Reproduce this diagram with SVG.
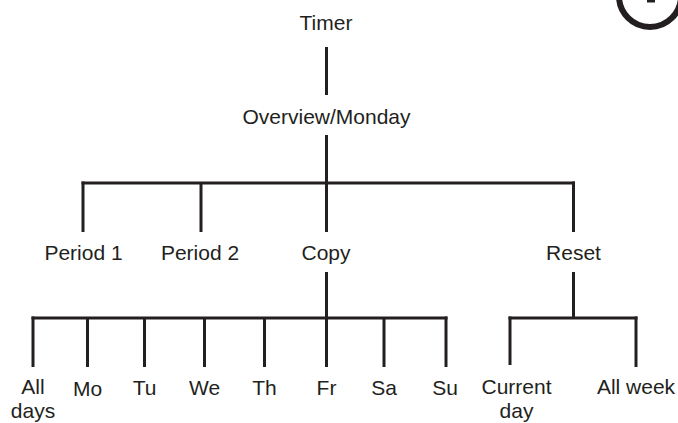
<svg xmlns="http://www.w3.org/2000/svg" width="678" height="423" viewBox="0 0 678 423">
<style>
.t{font-family:"Liberation Sans",Arial,sans-serif;font-size:21px;fill:#231f20;text-anchor:middle}
.c line{stroke:#231f20;stroke-width:3;stroke-linecap:butt}
</style>
<rect width="678" height="423" fill="#ffffff"/>
<g id="badge">
<circle cx="650" cy="-4" r="31" fill="none" stroke="#231f20" stroke-width="6"/>
<line x1="651" y1="-6" x2="651" y2="2.5" stroke="#231f20" stroke-width="8"/>
</g>
<g class="c" id="connectors">
<line x1="326.5" y1="47" x2="326.5" y2="95"/>
<line x1="326.5" y1="135" x2="326.5" y2="183"/>
<line x1="81.5" y1="183" x2="575" y2="183"/>
<line x1="83" y1="181.5" x2="83" y2="232"/>
<line x1="201" y1="183" x2="201" y2="232"/>
<line x1="326.5" y1="183" x2="326.5" y2="232"/>
<line x1="573.5" y1="181.5" x2="573.5" y2="232"/>
<line x1="326.5" y1="272" x2="326.5" y2="318"/>
<line x1="31.5" y1="318" x2="447.5" y2="318"/>
<line x1="33" y1="316.5" x2="33" y2="367"/>
<line x1="87.5" y1="318" x2="87.5" y2="367"/>
<line x1="144.5" y1="318" x2="144.5" y2="367"/>
<line x1="204.5" y1="318" x2="204.5" y2="367"/>
<line x1="264.5" y1="318" x2="264.5" y2="367"/>
<line x1="326.5" y1="318" x2="326.5" y2="367"/>
<line x1="384" y1="318" x2="384" y2="367"/>
<line x1="446" y1="316.5" x2="446" y2="367"/>
<line x1="573.5" y1="272" x2="573.5" y2="318"/>
<line x1="508.5" y1="318" x2="637.5" y2="318"/>
<line x1="510" y1="316.5" x2="510" y2="365"/>
<line x1="636" y1="316.5" x2="636" y2="367"/>
</g>
<g id="timer"><text class="t" x="326" y="29.5">Timer</text></g>
<g id="overview"><text class="t" x="326.5" y="124">Overview/Monday</text></g>
<g id="period1"><text class="t" x="83.5" y="260">Period 1</text></g>
<g id="period2"><text class="t" x="200" y="260">Period 2</text></g>
<g id="copy"><text class="t" x="326" y="260">Copy</text></g>
<g id="reset"><text class="t" x="573.5" y="260">Reset</text></g>
<g id="alldays"><text class="t" x="33" y="394">All</text><text class="t" x="33" y="418">days</text></g>
<g id="mo"><text class="t" x="87.5" y="396">Mo</text></g>
<g id="tu"><text class="t" x="144.5" y="395">Tu</text></g>
<g id="we"><text class="t" x="204.5" y="395">We</text></g>
<g id="th"><text class="t" x="264.5" y="395">Th</text></g>
<g id="fr"><text class="t" x="326.5" y="395">Fr</text></g>
<g id="sa"><text class="t" x="384" y="395">Sa</text></g>
<g id="su"><text class="t" x="445" y="395">Su</text></g>
<g id="currentday"><text class="t" x="516.5" y="393.5">Current</text><text class="t" x="516.5" y="418">day</text></g>
<g id="allweek"><text class="t" x="636" y="394">All week</text></g>
</svg>
